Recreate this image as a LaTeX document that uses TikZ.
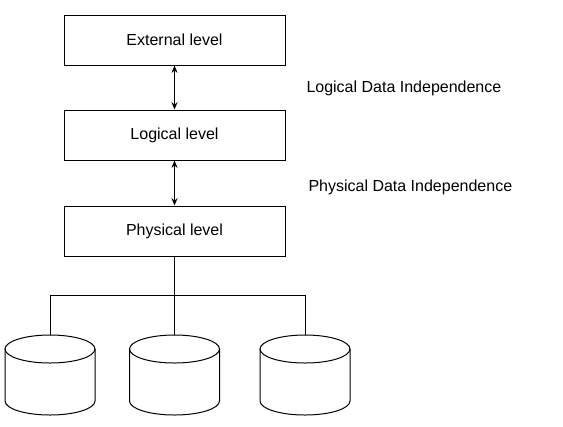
\documentclass[tikz,border=0pt]{standalone}
\usepackage{fontspec}
\setmainfont{Liberation Sans}
\usetikzlibrary{arrows.meta}
\tikzset{
  levelbox/.style={draw, line width=0.75pt, minimum width=165.75pt, minimum height=37.5pt,
    inner sep=0pt, font=\fontsize{12}{14}\selectfont},
  indep/.style={anchor=west, inner sep=0pt, font=\fontsize{12}{14}\selectfont},
  link/.style={line width=0.75pt, {Stealth[length=5.5pt,width=4.5pt]}-{Stealth[length=5.5pt,width=4.5pt]}}
}
\begin{document}
\begin{tikzpicture}[x=0.75pt, y=-0.75pt, line width=0.75pt]
    \useasboundingbox (0,0) rectangle (563,426);
    \node[levelbox] (ext) at (174.5,40) {External level};
    \node[levelbox] (log) at (174.5,135) {Logical level};
    \node[levelbox] (phys) at (174.5,231) {Physical level};
    \draw[link] (ext) -- (log);
    \draw[link] (log) -- (phys);
    \node[indep] (ldi) at (306,88) {Logical Data Independence};
    \node[indep] (pdi) at (308,187) {Physical Data Independence};
    % disks
    \foreach \c/\n in {50/one, 174.5/two, 305/three} {
        \draw (\c,349) ellipse (45 and 14);
        \draw (\c-45,349) -- (\c-45,401) arc[start angle=180, end angle=0, x radius=45, y radius=14] -- (\c+45,349);
        \coordinate (disk\n) at (\c,335);
    }
    \coordinate (bus) at (174.5,295);
    \draw (phys.south) -- (bus);
    \draw (diskone) |- (bus) -| (diskthree);
    \draw (disktwo) -- (bus);
\end{tikzpicture}
\end{document}
